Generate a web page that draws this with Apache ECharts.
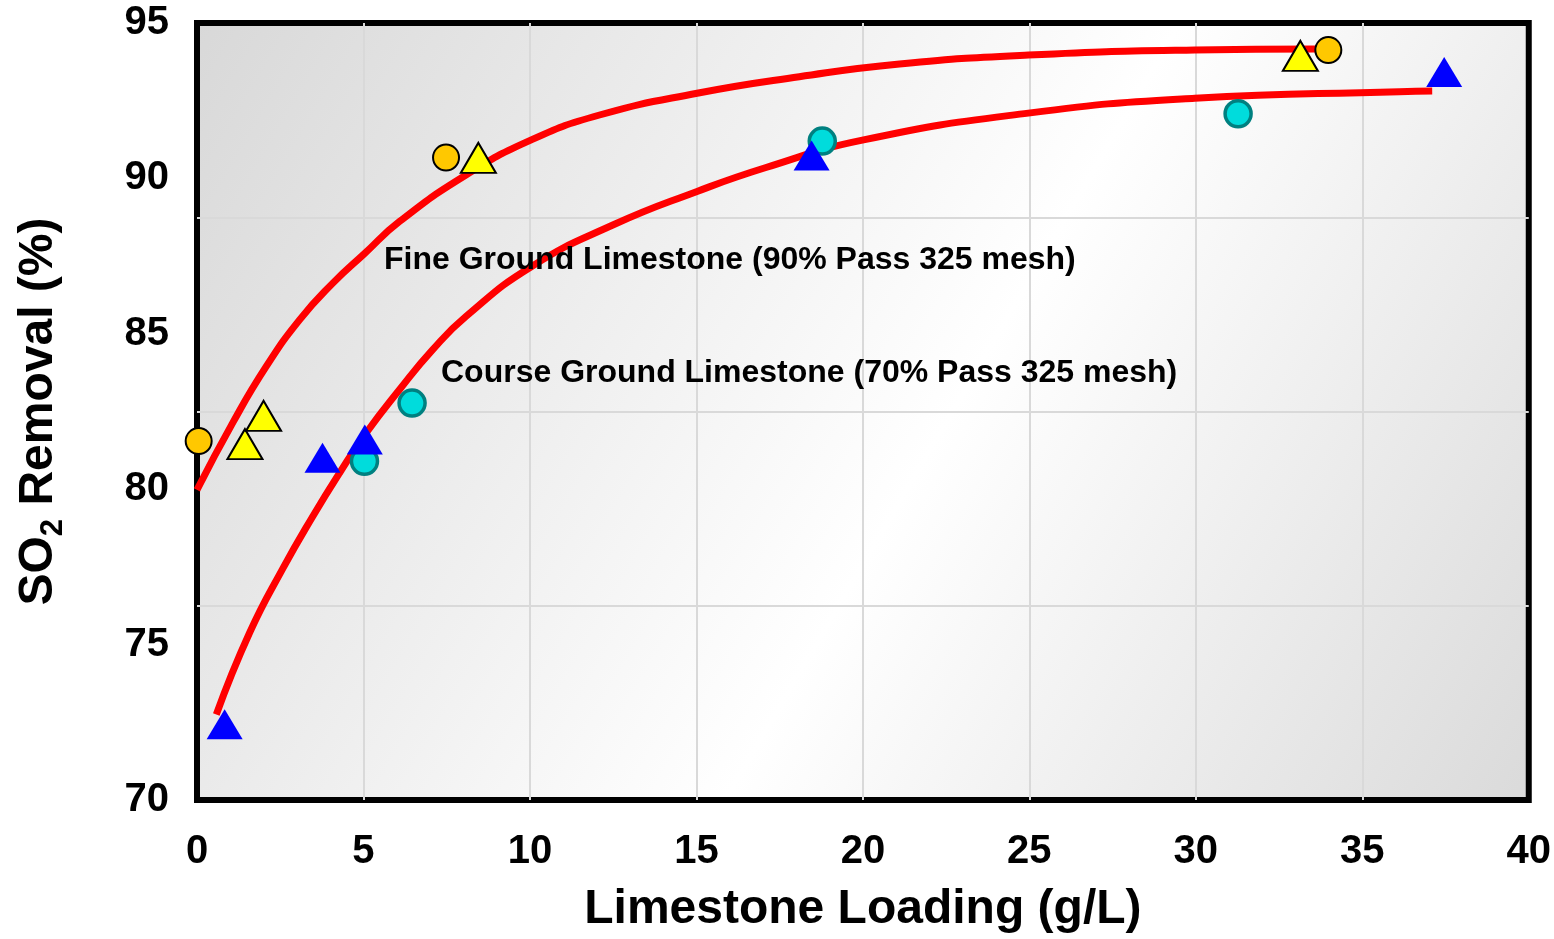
<!DOCTYPE html>
<html>
<head>
    <meta charset="UTF-8">
    <title>SO2 Removal vs Limestone Loading</title>
    <script src="https://cdn.jsdelivr.net/npm/echarts@6/dist/echarts.min.js"></script>
    <style>
        html, body { margin: 0; padding: 0; background: #fff; }
        #main { width: 1554px; height: 939px; }
    </style>
</head>
<body>
    <div id="main"></div>
    <script type="text/javascript">
        // measured points, [loading g/L, removal %]
        var fineCircles = [[0.05, 81.55], [7.48, 90.67], [33.98, 94.13]];
        var fineTriangles = [[1.44, 81.45], [2.0, 82.36], [8.45, 90.66], [33.14, 93.94]];
        var coarseCircles = [[5.03, 80.9], [6.46, 82.77], [18.78, 91.2], [31.27, 92.08]];
        var coarseTriangles = [[0.83, 72.44], [3.77, 81.01], [5.04, 81.6], [18.46, 90.74], [37.46, 93.42]];

        // fitted curves
        var fineCurve = [[0, 79.98], [1.08, 82.15], [2.08, 83.95], [3.08, 85.45], [4.08, 86.63], [5.03, 87.58],
            [6.08, 88.61], [8.08, 90.11], [10.04, 91.24], [12.09, 92.04], [15.02, 92.74], [18.09, 93.27],
            [21.1, 93.68], [24.97, 93.97], [29.97, 94.13], [33.6, 94.16]];
        var coarseCurve = [[0.58, 72.75], [1.58, 75.38], [2.58, 77.45], [3.48, 79.13], [4.28, 80.52], [5.08, 81.81],
            [6.08, 83.2], [7.08, 84.49], [8.08, 85.56], [10.04, 87.16], [12.49, 88.5], [15.02, 89.58],
            [17.09, 90.35], [20.02, 91.24], [24.97, 92.1], [29.97, 92.58], [36.11, 92.79], [37.1, 92.81]];

        var fineLabel = 'Fine Ground Limestone (90% Pass 325 mesh)';
        var coarseLabel = 'Course Ground Limestone (70% Pass 325 mesh)';

        var font = '"Liberation Sans", Arial, Helvetica, sans-serif';
        var myChart = echarts.init(document.getElementById('main'));

        var option = {
            backgroundColor: '#fff',
            animation: false,
            grid: {
                left: 197, right: 24, top: 23, bottom: 137,
                show: true,
                borderColor: '#000',
                borderWidth: 6,
                backgroundColor: {
                    type: 'linear', x: 0, y: 0, x2: 1, y2: 1,
                    colorStops: [
                        { offset: 0, color: '#d8d8d8' },
                        { offset: 0.55, color: '#ffffff' },
                        { offset: 1, color: '#dadada' }
                    ]
                }
            },
            xAxis: {
                type: 'value', min: 0, max: 40, interval: 5,
                name: 'Limestone Loading (g/L)',
                nameLocation: 'middle', nameGap: 86,
                nameTextStyle: { fontFamily: font, fontWeight: 'bold', fontSize: 48, color: '#000' },
                axisLine: { show: false }, axisTick: { show: false },
                axisLabel: { fontFamily: font, fontWeight: 'bold', fontSize: 40, color: '#000', margin: 32 },
                splitLine: { show: true, showMinLine: false, showMaxLine: false, lineStyle: { color: '#d9d9d9', width: 2 } }
            },
            yAxis: [{
                type: 'value', min: 70, max: 95, interval: 5,
                name: '{a|SO}{b|2}{a| Removal (%)}',
                nameLocation: 'middle', nameGap: 134, nameRotate: 90,
                nameTextStyle: {
                    rich: {
                        a: { fontFamily: font, fontWeight: 'bold', fontSize: 48, color: '#000' },
                        b: { fontFamily: font, fontWeight: 'bold', fontSize: 31, color: '#000', verticalAlign: 'bottom', padding: [0, 0, -6, 0] }
                    }
                },
                axisLine: { show: false }, axisTick: { show: false },
                axisLabel: { fontFamily: font, fontWeight: 'bold', fontSize: 40, color: '#000', margin: 28 },
                splitLine: { show: false }
            }, {
                // plain gridlines: the plot is cut in four bands
                type: 'value', min: 0, max: 4, interval: 1, position: 'right',
                axisLine: { show: false }, axisTick: { show: false }, axisLabel: { show: false },
                splitLine: { show: true, showMinLine: false, showMaxLine: false, lineStyle: { color: '#d9d9d9', width: 2 } }
            }],
            graphic: [
                { type: 'text', left: 384, top: 244, z: 50,
                  style: { text: fineLabel, fill: '#000', font: 'bold 32px ' + font } },
                { type: 'text', left: 441, top: 357, z: 50,
                  style: { text: coarseLabel, fill: '#000', font: 'bold 32px ' + font } }
            ],
            series: [
                { type: 'line', data: fineCurve, smooth: true, showSymbol: false, z: 2,
                  lineStyle: { color: '#ff0000', width: 7 } },
                { type: 'line', data: coarseCurve, smooth: true, showSymbol: false, z: 2,
                  lineStyle: { color: '#ff0000', width: 7 } },
                { type: 'scatter', data: coarseCircles, symbol: 'circle', symbolSize: 26, z: 3,
                  itemStyle: { color: '#00dcdc', borderColor: '#008080', borderWidth: 3.5, opacity: 1 } },
                { type: 'scatter', data: fineCircles, symbol: 'circle', symbolSize: 26, z: 3,
                  itemStyle: { color: '#ffc800', borderColor: '#000', borderWidth: 2, opacity: 1 } },
                { type: 'scatter', data: coarseTriangles, symbol: 'triangle', symbolSize: [36, 30], z: 4,
                  itemStyle: { color: '#0000ff', opacity: 1 } },
                { type: 'scatter', data: fineTriangles, symbol: 'triangle', symbolSize: [35, 30], z: 4,
                  itemStyle: { color: '#ffff00', borderColor: '#000', borderWidth: 2, opacity: 1 } }
            ]
        };

        myChart.setOption(option);
    </script>
</body>
</html>
